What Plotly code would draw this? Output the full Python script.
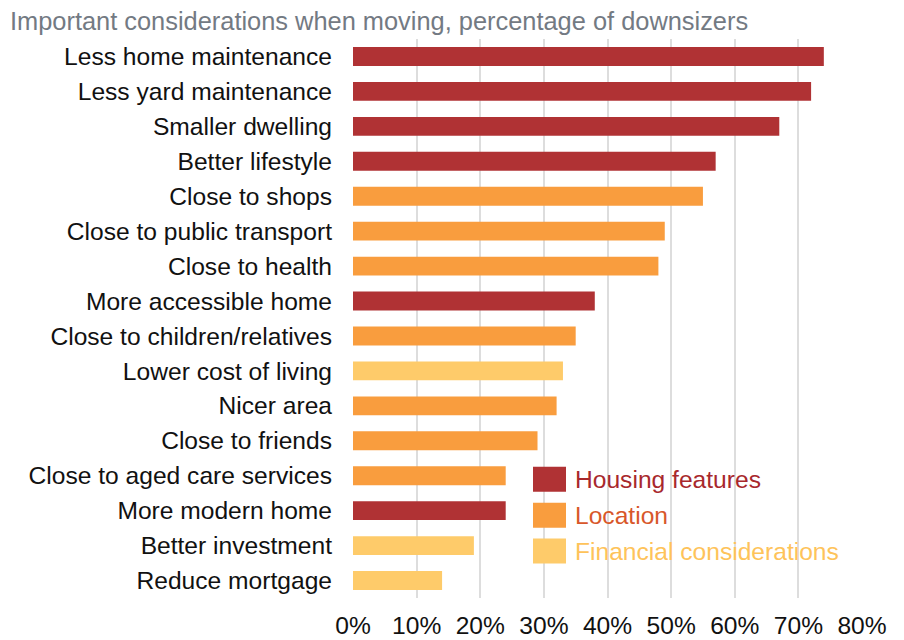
import plotly.graph_objects as go

categories = ["Less home maintenance", "Less yard maintenance", "Smaller dwelling", "Better lifestyle",
              "Close to shops", "Close to public transport", "Close to health", "More accessible home",
              "Close to children/relatives", "Lower cost of living", "Nicer area", "Close to friends",
              "Close to aged care services", "More modern home", "Better investment", "Reduce mortgage"]
values = [74, 72, 67, 57, 55, 49, 48, 38, 35, 33, 32, 29, 24, 24, 19, 14]
groups = ["Housing features", "Housing features", "Housing features", "Housing features",
          "Location", "Location", "Location", "Housing features",
          "Location", "Financial considerations", "Location", "Location",
          "Location", "Housing features", "Financial considerations", "Financial considerations"]
group_names = ["Housing features", "Location", "Financial considerations"]
bar_colors = {"Housing features": "#B03234", "Location": "#F99D3E", "Financial considerations": "#FECB6A"}
text_colors = {"Housing features": "#A8282C", "Location": "#D8572A", "Financial considerations": "#FEC35A"}

# page body has an 8px margin, so the figure is drawn 8px smaller and offset
W, H = 896, 632
L, T = 345, 30.5
PW, PH = 509, 560

fig = go.Figure()
fig.add_trace(go.Bar(
    y=categories, x=values, orientation="h",
    marker=dict(color=[bar_colors[g] for g in groups], line=dict(width=0)),
    showlegend=False, hoverinfo="x+y",
))

fig.update_layout(
    width=W, height=H,
    margin=dict(l=L, r=W - L - PW, t=T, b=H - T - PH, autoexpand=False),
    paper_bgcolor="white", plot_bgcolor="white",
    font=dict(family="Liberation Sans, Arial, sans-serif", size=24.6, color="#111111"),
    bargap=0.46,
    xaxis=dict(range=[0, 80], tickvals=[0, 10, 20, 30, 40, 50, 60, 70, 80],
               ticktext=["0%", "10%", "20%", "30%", "40%", "50%", "60%", "70%", "80%"],
               showgrid=True, gridcolor="#DDDDDD", gridwidth=1.5, zeroline=False,
               showline=False, ticks="", tickfont=dict(size=24.6, color="#111111"),
               ticklabelstandoff=10, automargin=False),
    yaxis=dict(autorange="reversed", showgrid=False, zeroline=False, showline=False, ticks="",
               tickfont=dict(size=24.6, color="#111111"), ticklabelstandoff=20, automargin=False),
)

fig.add_annotation(text="Important considerations when moving, percentage of downsizers",
                   xref="paper", yref="paper", x=-L / PW, y=1, xanchor="left", yanchor="bottom",
                   yshift=2, showarrow=False, font=dict(size=25.4, color="#737A83"))

# legend drawn manually (positions relative to plot area top/left, in pixels)
leg_top = [467, 503, 539]
for i, g in enumerate(group_names):
    y0 = leg_top[i] - 38.5
    fig.add_shape(type="rect", xref="paper", yref="paper",
                  x0=(533 - 353) / PW, x1=(566 - 353) / PW,
                  y0=1 - (y0 + 25) / PH, y1=1 - y0 / PH,
                  fillcolor=bar_colors[g], line=dict(width=0), layer="above")
    fig.add_annotation(text=g, xref="paper", yref="paper", x=(573 - 353) / PW,
                       y=1 - (y0 + 12.5) / PH, xanchor="left", yanchor="middle",
                       showarrow=False, font=dict(size=24.6, color=text_colors[g]))

fig.write_html("out.html")
